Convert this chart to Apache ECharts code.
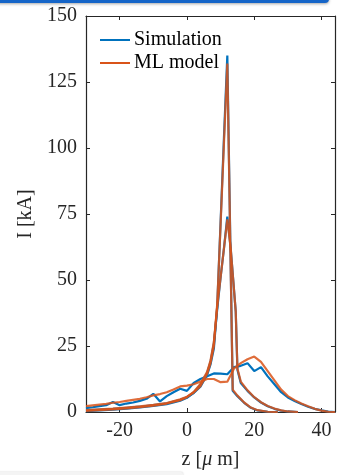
<!DOCTYPE html>
<html>
<head>
<meta charset="utf-8">
<script src="https://cdn.jsdelivr.net/npm/echarts@6/dist/echarts.min.js"></script>
<style>
  html, body { margin: 0; padding: 0; background: #fff; }
  #chart { width: 337px; height: 475px; }
</style>
</head>
<body>
<div id="chart"></div>
<script>
// z positions [um] and currents [kA]
const zA = [-30, -26, -22, -18, -14, -10, -6, -2, 0, 2, 4, 6, 7, 8, 9, 10, 11, 12, 13.6, 15, 17, 19, 21, 24, 27];
const simA = [0.6, 0.9, 1.2, 1.6, 2.0, 2.6, 3.3, 4.6, 5.6, 7.2, 9.6, 14, 18, 24, 40, 72, 104, 135, 8, 6, 3.5, 1.6, 0.6, 0.1, 0];
const mlA = [0.7, 1.0, 1.3, 1.7, 2.1, 2.7, 3.4, 4.8, 5.8, 7.4, 9.8, 14.5, 18.5, 25, 41, 71, 102, 132, 8.5, 6.2, 3.6, 1.7, 0.7, 0.1, 0];

const zB = [-30, -26, -22, -18, -14, -10, -6, -2, 0, 2, 4, 6, 7, 8, 9, 10, 11, 12, 13, 14.5, 15, 16, 18, 20, 22, 24, 26, 28, 30, 33];
const simB = [0.3, 0.6, 0.9, 1.3, 1.7, 2.3, 3.0, 4.3, 5.4, 7.3, 10.3, 14.8, 19, 26, 39, 51, 62, 74, 62, 38, 16, 11, 8, 5.5, 3.6, 2.2, 1.2, 0.5, 0.2, 0];
const mlB = [0.4, 0.7, 1.0, 1.4, 1.8, 2.4, 3.2, 4.5, 5.6, 7.6, 10.6, 15.2, 19.5, 26.5, 40, 51, 62, 73, 62, 38, 16.5, 11.5, 8.2, 5.6, 3.7, 2.3, 1.3, 0.6, 0.2, 0];

const zC = [-30, -28, -26, -24, -22, -20, -18, -16, -14, -12, -10, -8, -6, -4, -2, 0, 2, 4, 6, 8, 10, 12, 14, 16, 18, 20, 22, 24, 26, 28, 30, 32, 34, 36, 38, 40, 42, 44];
const simC = [1.5, 1.8, 2.2, 2.6, 3.8, 2.6, 3.2, 3.6, 4.2, 5.0, 6.9, 4.0, 6.0, 7.5, 8.8, 8.0, 11, 12.5, 13.5, 14.6, 14.5, 14.3, 17, 17.5, 18.5, 15.5, 17, 13.5, 10.5, 7.5, 5.5, 4.2, 3.0, 2.0, 1.2, 0.6, 0.2, 0];
const mlC = [2.2, 2.5, 2.8, 3.1, 3.5, 3.8, 4.2, 4.6, 5.0, 5.6, 6.3, 6.8, 7.5, 8.5, 9.7, 10, 10.5, 11.5, 12.5, 12.5, 11.3, 11.5, 16.5, 18.5, 20, 21, 19, 15.5, 12, 8.5, 6, 4.5, 3.2, 2.2, 1.2, 0.5, 0.1, 0];

const xTicks = [-20, 0, 20, 40];
const legendNames = ["Simulation", "ML model"];
const colors = ["#0072BD", "#D95319"];

const font = "Liberation Serif";
const axisColor = "#262626";

const pairs = (zs, vs) => zs.map((z, i) => [z, vs[i]]);

const makeLine = (name, zs, vs, color, width, opacity) => ({
  name: name,
  type: "line",
  data: pairs(zs, vs),
  showSymbol: false,
  symbol: "none",
  lineStyle: { color: color, width: width, opacity: opacity },
  itemStyle: { color: color },
  animation: false,
});

const chart = echarts.init(document.getElementById("chart"), null, { renderer: "canvas" });

const option = {
  animation: false,
  textStyle: { fontFamily: font },
  grid: { left: 86, right: 2, top: 16, bottom: 59, show: false },
  legend: {
    orient: "vertical",
    left: 100,
    top: 30,
    padding: 0,
    itemWidth: 30,
    itemHeight: 2,
    itemGap: 3,
    icon: "rect",
    data: legendNames,
    textStyle: { fontFamily: font, fontSize: 20, color: "#000", lineHeight: 20, padding: [0, 0, 0, -1] },
  },
  xAxis: [
    {
      type: "value",
      min: -30,
      max: 44,
      position: "bottom",
      axisLine: { show: true, onZero: false, lineStyle: { color: axisColor, width: 1.2 } },
      axisTick: { show: true, inside: true, length: 4, lineStyle: { color: axisColor }, customValues: xTicks },
      axisLabel: { color: axisColor, fontFamily: font, fontSize: 20, margin: 9, customValues: xTicks },
      splitLine: { show: false },
      name: "z [{mu|μ} m]",
      nameLocation: "middle",
      nameGap: 38,
      nameTextStyle: {
        color: axisColor, fontFamily: font, fontSize: 20,
        rich: { mu: { fontFamily: font, fontStyle: "italic", fontSize: 20, color: axisColor } },
      },
    },
    {
      type: "value",
      min: -30,
      max: 44,
      position: "top",
      axisLine: { show: true, onZero: false, lineStyle: { color: axisColor, width: 1.2 } },
      axisTick: { show: true, inside: true, length: 4, lineStyle: { color: axisColor }, customValues: xTicks },
      axisLabel: { show: false },
      splitLine: { show: false },
    },
  ],
  yAxis: [
    {
      type: "value",
      min: 0,
      max: 150,
      interval: 25,
      position: "left",
      axisLine: { show: true, onZero: false, lineStyle: { color: axisColor, width: 1.2 } },
      axisTick: { show: true, inside: true, length: 4, lineStyle: { color: axisColor } },
      axisLabel: { color: axisColor, fontFamily: font, fontSize: 20, margin: 9 },
      splitLine: { show: false },
      name: "I [kA]",
      nameLocation: "middle",
      nameGap: 50,
      nameTextStyle: { color: axisColor, fontFamily: font, fontSize: 20 },
    },
    {
      type: "value",
      min: 0,
      max: 150,
      interval: 25,
      position: "right",
      axisLine: { show: true, onZero: false, lineStyle: { color: axisColor, width: 1.2 } },
      axisTick: { show: true, inside: true, length: 4, lineStyle: { color: axisColor } },
      axisLabel: { show: false },
      splitLine: { show: false },
    },
  ],
  graphic: [
    {
      type: "rect",
      shape: { x: -10, y: -10, width: 339, height: 13, r: 4 },
      style: { fill: "#1565C8", shadowBlur: 3, shadowColor: "rgba(0,0,0,0.35)", shadowOffsetY: 1 },
      z: 100,
    },
    {
      type: "rect",
      shape: { x: -5, y: 472, width: 188, height: 10, r: 2 },
      style: { fill: "#f4f4f4", shadowBlur: 2, shadowColor: "rgba(0,0,0,0.2)" },
      z: 100,
    },
  ],
  series: [
    makeLine(legendNames[0], zC, simC, colors[0], 2.2, 1),
    makeLine(legendNames[0], zB, simB, colors[0], 2.2, 1),
    makeLine(legendNames[0], zA, simA, colors[0], 2.2, 1),
    makeLine(legendNames[1], zC, mlC, colors[1], 2.2, 0.85),
    makeLine(legendNames[1], zB, mlB, colors[1], 2.2, 0.85),
    makeLine(legendNames[1], zA, mlA, colors[1], 2.2, 0.85),
  ],
};

chart.setOption(option);
</script>
</body>
</html>
